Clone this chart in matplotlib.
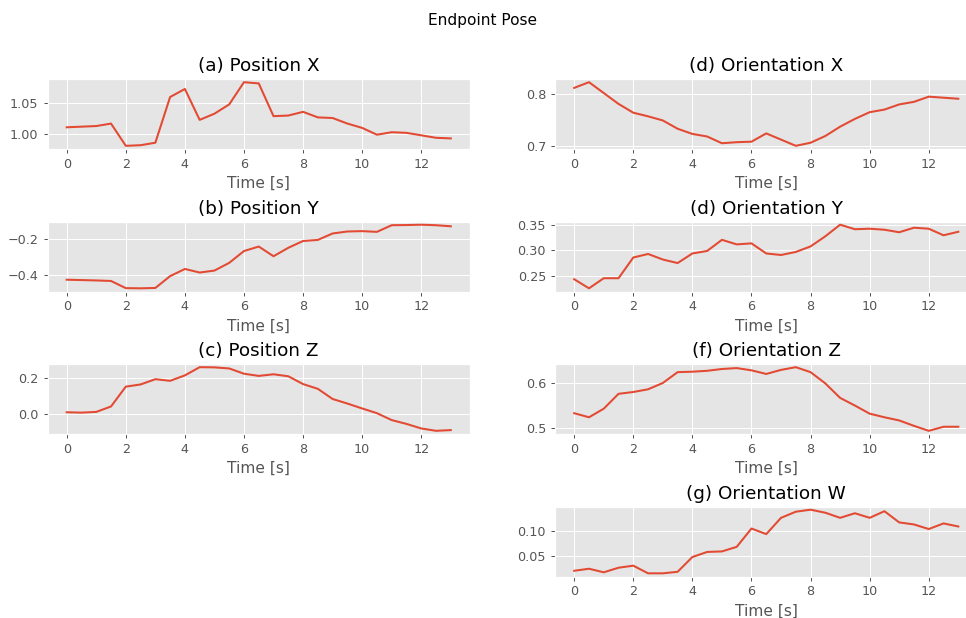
import numpy as np
import matplotlib
matplotlib.use('Agg')
import matplotlib.pyplot as plt

plt.style.use('ggplot')

# Sample times (every 0.5 s)
t = np.arange(0, 13.01, 0.5)

pos_x = [1.011, 1.012, 1.013, 1.017, 0.981, 0.982, 0.986, 1.060, 1.073, 1.023,
         1.033, 1.048, 1.084, 1.082, 1.029, 1.030, 1.036, 1.027, 1.026, 1.017,
         1.010, 0.999, 1.003, 1.002, 0.998, 0.994, 0.993]
pos_y = [-0.429, -0.431, -0.433, -0.436, -0.476, -0.477, -0.475, -0.409, -0.369, -0.389,
         -0.378, -0.335, -0.269, -0.244, -0.298, -0.251, -0.213, -0.207, -0.171, -0.160,
         -0.158, -0.162, -0.125, -0.124, -0.122, -0.125, -0.131]
pos_z = [0.009, 0.007, 0.011, 0.041, 0.150, 0.162, 0.191, 0.182, 0.212, 0.257,
         0.256, 0.250, 0.221, 0.209, 0.218, 0.207, 0.164, 0.138, 0.082, 0.057,
         0.030, 0.004, -0.034, -0.055, -0.080, -0.093, -0.089]
ori_x = [0.812, 0.823, 0.802, 0.781, 0.764, 0.757, 0.749, 0.733, 0.723, 0.718,
         0.705, 0.707, 0.708, 0.724, 0.712, 0.700, 0.706, 0.719, 0.737, 0.752,
         0.765, 0.770, 0.780, 0.785, 0.795, 0.793, 0.791]
ori_y = [0.243, 0.225, 0.245, 0.245, 0.286, 0.293, 0.282, 0.275, 0.294, 0.299,
         0.321, 0.312, 0.314, 0.294, 0.291, 0.297, 0.308, 0.328, 0.351, 0.342,
         0.343, 0.341, 0.336, 0.345, 0.343, 0.330, 0.337]
ori_z = [0.532, 0.523, 0.542, 0.575, 0.579, 0.585, 0.599, 0.623, 0.624, 0.626,
         0.630, 0.632, 0.627, 0.619, 0.628, 0.634, 0.623, 0.598, 0.566, 0.549,
         0.531, 0.523, 0.516, 0.504, 0.493, 0.502, 0.502]
ori_w = [0.021, 0.025, 0.018, 0.027, 0.031, 0.016, 0.016, 0.019, 0.048, 0.058,
         0.059, 0.068, 0.104, 0.093, 0.125, 0.137, 0.141, 0.135, 0.125, 0.134,
         0.125, 0.138, 0.116, 0.112, 0.103, 0.114, 0.108]

W, H, DPI = 966, 618, 92
fig = plt.figure(figsize=(W / DPI, H / DPI), dpi=DPI)
fig.suptitle('Endpoint Pose', y=1 - 20 / H, va='center', fontsize=12)

# axes boxes in pixels: column left edges, row tops
col_left = [47.5, 555]
ax_w = 422.5
row_top = [79, 221.5, 364, 506.5]
ax_h = 70


def panel(col, row, data, title):
    x0 = col_left[col]
    y1 = row_top[row] + ax_h
    ax = fig.add_axes([x0 / W, 1 - y1 / H, ax_w / W, ax_h / H])
    ax.plot(t, data, lw=1.6)
    ax.set_title(title)
    ax.set_xlabel('Time [s]')
    return ax


panel(0, 0, pos_x, '(a) Position X')
panel(0, 1, pos_y, '(b) Position Y')
panel(0, 2, pos_z, '(c) Position Z')
panel(1, 0, ori_x, '(d) Orientation X')
panel(1, 1, ori_y, '(d) Orientation Y')
panel(1, 2, ori_z, '(f) Orientation Z')
panel(1, 3, ori_w, '(g) Orientation W')

fig.savefig('out.png', dpi=DPI)
